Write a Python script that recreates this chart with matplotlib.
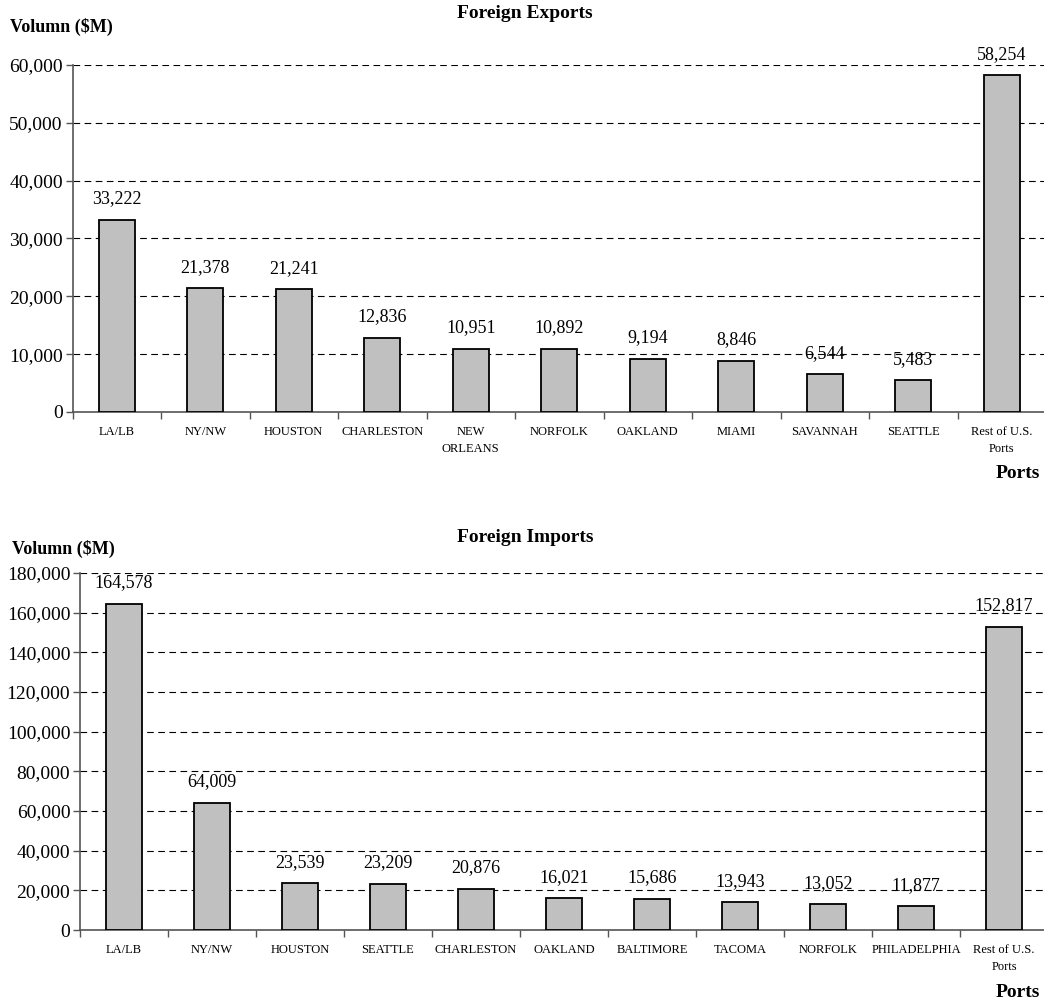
import matplotlib
matplotlib.use("Agg")
import matplotlib.pyplot as plt
from matplotlib.ticker import FuncFormatter, FixedLocator

plt.rcParams['font.family'] = ['Liberation Serif', 'DejaVu Serif']

exp_ports = ["LA/LB", "NY/NW", "HOUSTON", "CHARLESTON", "NEW\nORLEANS", "NORFOLK",
             "OAKLAND", "MIAMI", "SAVANNAH", "SEATTLE", "Rest of U.S.\nPorts"]
exp_values = [33222, 21378, 21241, 12836, 10951, 10892, 9194, 8846, 6544, 5483, 58254]

imp_ports = ["LA/LB", "NY/NW", "HOUSTON", "SEATTLE", "CHARLESTON", "OAKLAND",
             "BALTIMORE", "TACOMA", "NORFOLK", "PHILADELPHIA", "Rest of U.S.\nPorts"]
imp_values = [164578, 64009, 23539, 23209, 20876, 16021, 15686, 13943, 13052, 11877, 152817]

W, H = 1044, 1005
fig = plt.figure(figsize=(W / 100, H / 100), dpi=100)


def px_axes(left, right, top, bottom):
    return fig.add_axes([left / W, 1 - bottom / H, (right - left) / W, (bottom - top) / H])


def draw(ax, cats, vals, ymax, step):
    n = len(cats)
    x = list(range(n))
    ax.bar(x, vals, width=0.41, color="#C0C0C0", edgecolor="black", linewidth=1.3, zorder=3)
    ax.set_xlim(-0.5, n - 0.5)
    ax.set_ylim(0, ymax)
    ax.set_yticks(list(range(0, ymax + 1, step)))
    ax.yaxis.set_major_formatter(FuncFormatter(lambda v, p: f"{int(v):,}"))
    ax.set_xticks(x)
    ax.set_xticklabels(cats, fontsize=9, linespacing=1.6)
    ax.xaxis.set_minor_locator(FixedLocator([i - 0.5 for i in range(n + 1)]))
    ax.tick_params(axis="x", which="major", length=0, pad=10)
    ax.tick_params(axis="x", which="minor", length=5, color="#555555", width=1)
    ax.tick_params(axis="y", which="major", length=5, color="#555555", width=1,
                   labelsize=14, pad=2)
    for s in ("top", "right"):
        ax.spines[s].set_visible(False)
    for s in ("left", "bottom"):
        ax.spines[s].set_color("#555555")
        ax.spines[s].set_linewidth(1.2)
    ax.yaxis.grid(True, linestyle=(0, (6, 4)), color="black", linewidth=0.8, zorder=0)
    ax.set_axisbelow(True)
    for xi, v in zip(x, vals):
        ax.annotate(f"{v:,}", (xi, v), xytext=(0, 9), textcoords="offset points",
                    ha="center", va="bottom", fontsize=13)


ax1 = px_axes(72.5, 1046, 65, 412)
draw(ax1, exp_ports, exp_values, 60000, 10000)

ax2 = px_axes(80, 1048, 573, 930)
draw(ax2, imp_ports, imp_values, 180000, 20000)

fig.text(525 / W, 1 - 14 / H, "Foreign Exports", ha="center", va="center",
         fontsize=14, fontweight="bold")
fig.text(10 / W, 1 - 27 / H, "Volumn ($M)", ha="left", va="center",
         fontsize=13, fontweight="bold")
fig.text(1040 / W, 1 - 474 / H, "Ports", ha="right", va="center",
         fontsize=14, fontweight="bold")

fig.text(525 / W, 1 - 537 / H, "Foreign Imports", ha="center", va="center",
         fontsize=14, fontweight="bold")
fig.text(12 / W, 1 - 549 / H, "Volumn ($M)", ha="left", va="center",
         fontsize=13, fontweight="bold")
fig.text(1040 / W, 1 - 992 / H, "Ports", ha="right", va="center",
         fontsize=14, fontweight="bold")

fig.savefig("out.png", dpi=100, facecolor="white")
